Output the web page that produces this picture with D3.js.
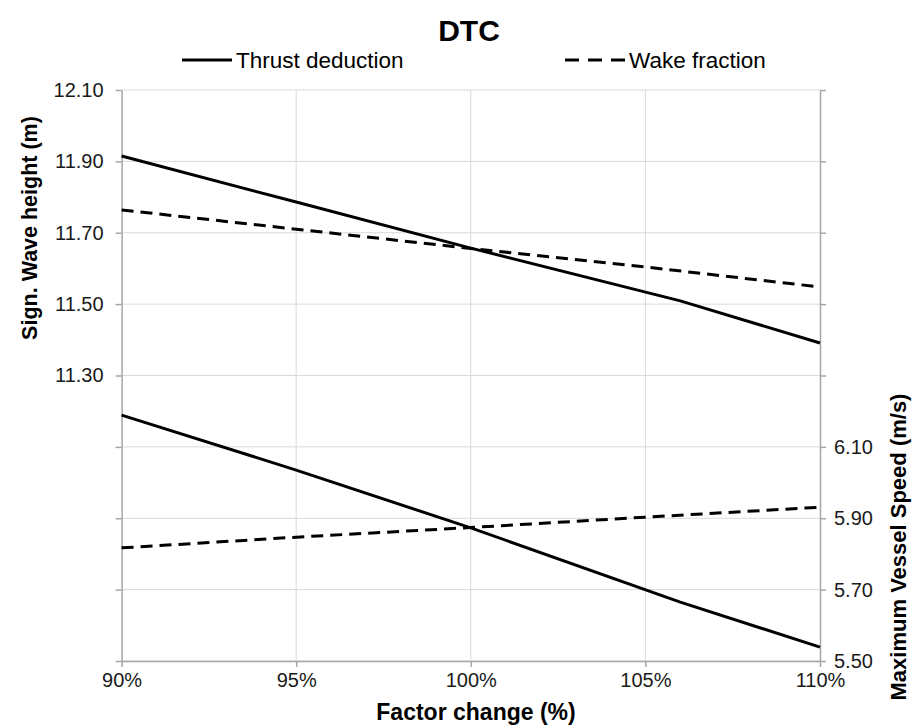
<!DOCTYPE html>
<head>
<meta charset="utf-8">
<script src="https://d3js.org/d3.v7.min.js"></script>
<style>
body {
	margin: 0;
	background: #fff;
}
svg {
	font-family: "Liberation Sans", Arial, sans-serif;
}
.grid line {
	stroke: #d9d9d9;
	stroke-width: 1;
}
.axis path, .axis line {
	stroke: #a6a6a6;
	stroke-width: 1.5;
}
.axis text {
	fill: #1a1a1a;
	font-size: 20px;
}
.line {
	fill: none;
	stroke: #000;
	stroke-width: 3px;
}
.dash {
	stroke-dasharray: 12 7;
}
</style>
</head>
<body>
<svg id="chart" width="923" height="726"></svg>
<script>

// factor change (%)
var factor = [90, 95, 100, 106, 110];
var factorWake = [90, 95, 100, 105, 110];

// sign. wave height (m), left axis
var waveThrust = [11.915, 11.786, 11.657, 11.509, 11.391];
var waveWake = [11.764, 11.710, 11.656, 11.604, 11.548];

// max vessel speed (m/s), right axis
var speedThrust = [6.189, 6.035, 5.873, 5.665, 5.539];
var speedWake = [5.817, 5.847, 5.874, 5.903, 5.931];

var xTicks = [90, 95, 100, 105, 110];
var leftTicks = [10.5, 10.7, 10.9, 11.1, 11.3, 11.5, 11.7, 11.9, 12.1];
var rightTicks = [5.5, 5.7, 5.9, 6.1, 6.3, 6.5, 6.7, 6.9, 7.1];

var svg = d3.select("#chart"),
	margin = {top: 90, right: 103, bottom: 65, left: 121.6},
	width = +svg.attr("width"),
	height = +svg.attr("height");

var x = d3.scaleLinear()
	.domain([90, 110])
	.range([margin.left, width - margin.right]);

var yL = d3.scaleLinear()
	.domain([10.5, 12.1])
	.range([height - margin.bottom, margin.top]);

var yR = d3.scaleLinear()
	.domain([5.5, 7.1])
	.range([height - margin.bottom, margin.top]);

// gridlines
svg.append("g").attr("class", "grid")
	.selectAll("line").data(leftTicks).join("line")
	.attr("x1", x(90)).attr("x2", x(110))
	.attr("y1", d => yL(d)).attr("y2", d => yL(d));

svg.append("g").attr("class", "grid")
	.selectAll("line").data(xTicks.slice(1, -1)).join("line")
	.attr("x1", d => x(d)).attr("x2", d => x(d))
	.attr("y1", yL(12.1)).attr("y2", yL(10.5));

// axes
svg.append("g").attr("class", "axis")
	.attr("transform", "translate(0," + yL(10.5) + ")")
	.call(d3.axisBottom(x).tickValues(xTicks).tickSize(6).tickPadding(6)
		.tickFormat(d => d + "%").tickSizeOuter(0));

svg.append("g").attr("class", "axis")
	.attr("transform", "translate(" + x(90) + ",0)")
	.call(d3.axisLeft(yL).tickValues(leftTicks).tickSize(6).tickPadding(12)
		.tickSizeOuter(0)
		.tickFormat(d => d >= 11.29 ? d3.format(".2f")(d) : ""));

svg.append("g").attr("class", "axis")
	.attr("transform", "translate(" + x(110) + ",0)")
	.call(d3.axisRight(yR).tickValues(rightTicks).tickSize(6).tickPadding(8)
		.tickSizeOuter(0)
		.tickFormat(d => d <= 6.11 ? d3.format(".2f")(d) : ""));

// lines
var lineL = d3.line().x(d => x(d[0])).y(d => yL(d[1]));
var lineR = d3.line().x(d => x(d[0])).y(d => yR(d[1]));

svg.append("path").attr("class", "line")
	.attr("d", lineL(d3.zip(factor, waveThrust)));
svg.append("path").attr("class", "line dash")
	.attr("d", lineL(d3.zip(factorWake, waveWake)));
svg.append("path").attr("class", "line")
	.attr("d", lineR(d3.zip(factor, speedThrust)));
svg.append("path").attr("class", "line dash")
	.attr("d", lineR(d3.zip(factorWake, speedWake)));

// title
svg.append("text")
	.attr("x", 469).attr("y", 41)
	.attr("text-anchor", "middle")
	.style("font-size", "30px").style("font-weight", "bold")
	.text("DTC");

// legend
var legend = [
	{name: "Thrust deduction", x: 182, dash: false},
	{name: "Wake fraction", x: 565, dash: true}
];
var lg = svg.selectAll(".legend").data(legend).join("g")
	.attr("class", "legend")
	.attr("transform", d => "translate(" + d.x + ",60)");
lg.append("line")
	.attr("class", d => d.dash ? "line dash" : "line")
	.style("stroke-dasharray", d => d.dash ? "14 9" : null)
	.attr("x1", 0).attr("x2", d => d.dash ? 60 : 50)
	.attr("y1", 0).attr("y2", 0);
lg.append("text")
	.attr("x", d => d.dash ? 64 : 54).attr("y", 8)
	.style("font-size", "22.5px").style("fill", "#000")
	.text(d => d.name);

// axis titles
svg.append("text")
	.attr("x", 476).attr("y", 720)
	.attr("text-anchor", "middle")
	.style("font-size", "23px").style("font-weight", "bold")
	.text("Factor change (%)");

svg.append("text")
	.attr("transform", "translate(37,228) rotate(-90)")
	.attr("text-anchor", "middle")
	.style("font-size", "21.5px").style("font-weight", "bold")
	.text("Sign. Wave height (m)");

svg.append("text")
	.attr("transform", "translate(906,547) rotate(-90)")
	.attr("text-anchor", "middle")
	.style("font-size", "22px").style("font-weight", "bold")
	.text("Maximum Vessel Speed (m/s)");

</script>
</body>
